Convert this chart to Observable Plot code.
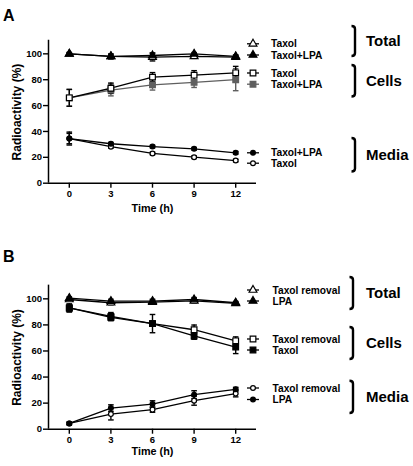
<!DOCTYPE html>
<html>
<head>
<meta charset="utf-8">
<script src="https://cdn.jsdelivr.net/npm/d3@7"></script>
<script src="https://cdn.jsdelivr.net/npm/@observablehq/plot@0.6"></script>
<style>
  html, body { margin: 0; padding: 0; background: #fff; }
  svg { display: block; }
</style>
</head>
<body>
<div id="chart"></div>
<script>
// ---------- data ----------
const times = [0, 3, 6, 9, 12];
const xTicks = [0, 3, 6, 9, 12];
const yTicks = [0, 20, 40, 60, 80, 100];

// Panel A
const aTotalTaxol       = [100, 98, 97.5, 98, 97.5];
const aTotalTaxolErr    = [1, 2, 3, 1.5, 1.5];
const aTotalTaxolLPA    = [100, 98, 98.7, 100, 98];
const aTotalTaxolLPAErr = [1, 1.5, 2, 1, 1];
const aCellsTaxol       = [66, 73.4, 82, 83.5, 85.3];
const aCellsTaxolErr    = [6.5, 4, 3.5, 3.5, 5];
const aCellsTaxolLPA    = [66, 72, 76, 78, 80];
const aCellsTaxolLPAErr = [6.5, 4.5, 4, 4, 8.5];
const aMediaTaxolLPA    = [34.5, 30.5, 28.3, 26.6, 23.5];
const aMediaTaxolLPAErr = [5, 1, 1, 1, 1];
const aMediaTaxol       = [34.5, 28.2, 23, 20.1, 17.5];
const aMediaTaxolErr    = [4, 1, 1, 1, 1];

// Panel B
const bTotalRemoval     = [99.5, 97, 97.5, 98.5, 96.5];
const bTotalRemovalErr  = [1, 1.5, 1.5, 1.5, 1];
const bTotalLPA         = [100.5, 98.2, 98.2, 99.5, 97];
const bTotalLPAErr      = [1, 1.5, 1.5, 1.5, 1];
const bCellsRemoval     = [93, 86.5, 81, 76.3, 67.8];
const bCellsRemovalErr  = [3, 3, 7, 3.6, 3];
const bCellsTaxol       = [93, 85.7, 81, 71.5, 63];
const bCellsTaxolErr    = [3, 2.5, 2, 2.5, 5];
const bMediaRemoval     = [4.4, 11.6, 15, 21.9, 27.3];
const bMediaRemovalErr  = [1, 4.5, 2, 3.5, 2.5];
const bMediaLPA         = [4.4, 16.2, 19.3, 26.5, 30.6];
const bMediaLPAErr      = [1, 2.5, 2.5, 3, 1.5];

// legend / group labels
const aLegendLabels = ["Taxol", "Taxol+LPA", "Taxol", "Taxol+LPA", "Taxol+LPA", "Taxol"];
const bLegendLabels = ["Taxol removal", "LPA", "Taxol removal", "Taxol", "Taxol removal", "LPA"];
const groupLabels = ["Total", "Cells", "Media"];

// ---------- styles ----------
const FONT = "'Liberation Sans', Arial, Helvetica, sans-serif";
const GRAY = "#5f5f5f";
const styleOf = {
  openTri:   {symbol: "triangle", fill: "white", stroke: "black", r: 2.9},
  fillTri:   {symbol: "triangle", fill: "black", stroke: "black", r: 2.9},
  openSq:    {symbol: "square",   fill: "white", stroke: "black", r: 3.2},
  graySq:    {symbol: "square",   fill: GRAY,    stroke: GRAY,    r: 3.2},
  fillSq:    {symbol: "square",   fill: "black", stroke: "black", r: 3.2},
  openCirc:  {symbol: "circle",   fill: "white", stroke: "black", r: 2.4},
  fillCirc:  {symbol: "circle",   fill: "black", stroke: "black", r: 2.4}
};

const capSymbol = {
  draw(context, size) {
    const w = Math.sqrt(size / Math.PI);
    context.moveTo(-w, 0);
    context.lineTo(w, 0);
  }
};

function rows(ys, errs) {
  return times.map((t, i) => ({x: t, y: ys[i], e: errs[i]}));
}

function seriesMarks(ys, errs, st) {
  const data = rows(ys, errs);
  const c = st.stroke;
  return [
    Plot.ruleX(data, {x: "x", y1: d => d.y - d.e, y2: d => d.y + d.e, stroke: c, strokeWidth: 1.4}),
    Plot.dot(data, {x: "x", y: d => d.y - d.e, symbol: capSymbol, r: 2.8, stroke: c, fill: "none", strokeWidth: 1.4}),
    Plot.dot(data, {x: "x", y: d => d.y + d.e, symbol: capSymbol, r: 2.8, stroke: c, fill: "none", strokeWidth: 1.4}),
    Plot.line(data, {x: "x", y: "y", stroke: c, strokeWidth: 1.3})
  ];
}
function dotMarks(ys, errs, st) {
  const data = rows(ys, errs);
  return [Plot.dot(data, {x: "x", y: "y", symbol: st.symbol, r: st.r, fill: st.fill, stroke: st.stroke, strokeWidth: 1.2})];
}

function symbolPath(st) {
  const type = st.symbol === "triangle" ? d3.symbolTriangle : st.symbol === "square" ? d3.symbolSquare : d3.symbolCircle;
  return d3.symbol(type, st.r * st.r * Math.PI)();
}

function makePanel(p) {
  const marks = [];
  p.series.forEach(s => marks.push(...seriesMarks(s.ys, s.errs, s.st)));
  p.series.forEach(s => marks.push(...dotMarks(s.ys, s.errs, s.st)));
  marks.push(
    Plot.ruleY([0], {stroke: "black", strokeWidth: 1.5}),
    Plot.ruleX([-1.5], {y1: 0, y2: 110.5, stroke: "black", strokeWidth: 1.5}),
    Plot.axisY({ticks: yTicks, tickSize: 5, tickPadding: 1.5, fontSize: 9.5, fontWeight: "bold", strokeWidth: 1.4, label: null}),
    Plot.axisX({ticks: xTicks, tickSize: 5, tickPadding: 2, fontSize: 9.5, fontWeight: "bold", strokeWidth: 1.4, label: null}),
    Plot.text(["Time (h)"], {frameAnchor: "bottom", dy: p.xTitleDy, fontSize: 10.8, fontWeight: "bold", fill: "black", textAnchor: "middle"}),
    Plot.text(["Radioactivity (%)"], {frameAnchor: "left", dx: -31, rotate: -90, fontSize: 12, fontWeight: "bold", fill: "black", textAnchor: "middle"})
  );
  const chart = Plot.plot({
    width: 413,
    height: 233,
    marginLeft: 48,
    marginRight: 157,
    marginTop: p.marginTop,
    marginBottom: p.marginBottom,
    x: {domain: [-1.5, 13.5]},
    y: {domain: [0, 110]},
    style: {fontFamily: FONT, fontSize: "9.5px", fontWeight: "bold", color: "black", background: "white", overflow: "visible"},
    marks
  });

  const svg = d3.select(chart);
  const g = svg.append("g").attr("font-family", FONT).attr("font-weight", "bold").attr("text-anchor", "start");
  // panel letter
  g.append("text").attr("x", 3).attr("y", p.letterY).attr("font-size", 16).text(p.letter);
  // legend
  p.legend.forEach((it, i) => {
    const y = it.y;
    g.append("line").attr("x1", 247).attr("x2", 259).attr("y1", y).attr("y2", y)
      .attr("stroke", it.st.stroke).attr("stroke-width", 1.3);
    g.append("path").attr("d", symbolPath(it.st)).attr("transform", `translate(253,${y})`)
      .attr("fill", it.st.fill).attr("stroke", it.st.stroke).attr("stroke-width", 1.2);
    g.append("text").attr("x", p.legendTextX).attr("y", y).attr("dy", "0.36em")
      .attr("font-size", 10.2).text(it.label);
  });
  // brackets
  p.brackets.forEach(b => {
    const x = b.x;
    g.append("path")
      .attr("d", `M${x - 3.5},${b.top} Q${x},${b.top} ${x},${b.top + 3} V${b.bottom - 3} Q${x},${b.bottom} ${x - 3.5},${b.bottom}`)
      .attr("fill", "none").attr("stroke", "black").attr("stroke-width", 2.4);
    g.append("text").attr("x", 366).attr("y", (b.top + b.bottom) / 2).attr("dy", "0.36em")
      .attr("font-size", 15).text(b.label);
  });
  return chart;
}

const panelA = makePanel({
  letter: "A", letterY: 21,
  marginTop: 40.4, marginBottom: 50.3, xTitleDy: 28.5,
  series: [
    {ys: aCellsTaxolLPA, errs: aCellsTaxolLPAErr, st: styleOf.graySq},
    {ys: aCellsTaxol, errs: aCellsTaxolErr, st: styleOf.openSq},
    {ys: aTotalTaxol, errs: aTotalTaxolErr, st: styleOf.openTri},
    {ys: aTotalTaxolLPA, errs: aTotalTaxolLPAErr, st: styleOf.fillTri},
    {ys: aMediaTaxol, errs: aMediaTaxolErr, st: styleOf.openCirc},
    {ys: aMediaTaxolLPA, errs: aMediaTaxolLPAErr, st: styleOf.fillCirc}
  ],
  legendTextX: 271,
  legend: [
    {label: aLegendLabels[0], y: 43.8, st: styleOf.openTri},
    {label: aLegendLabels[1], y: 55, st: styleOf.fillTri},
    {label: aLegendLabels[2], y: 73, st: styleOf.openSq},
    {label: aLegendLabels[3], y: 84.2, st: styleOf.graySq},
    {label: aLegendLabels[4], y: 152.8, st: styleOf.fillCirc},
    {label: aLegendLabels[5], y: 163.2, st: styleOf.openCirc}
  ],
  brackets: [
    {label: groupLabels[0], x: 355, top: 26, bottom: 56},
    {label: groupLabels[1], x: 355, top: 65, bottom: 96.5},
    {label: groupLabels[2], x: 355, top: 138, bottom: 171.5}
  ]
});

const panelB = makePanel({
  letter: "B", letterY: 29,
  marginTop: 52.3, marginBottom: 37.3, xTitleDy: 25.5,
  series: [
    {ys: bCellsRemoval, errs: bCellsRemovalErr, st: styleOf.openSq},
    {ys: bCellsTaxol, errs: bCellsTaxolErr, st: styleOf.fillSq},
    {ys: bTotalRemoval, errs: bTotalRemovalErr, st: styleOf.openTri},
    {ys: bTotalLPA, errs: bTotalLPAErr, st: styleOf.fillTri},
    {ys: bMediaRemoval, errs: bMediaRemovalErr, st: styleOf.openCirc},
    {ys: bMediaLPA, errs: bMediaLPAErr, st: styleOf.fillCirc}
  ],
  legendTextX: 272.5,
  legend: [
    {label: bLegendLabels[0], y: 290 - 233, st: styleOf.openTri},
    {label: bLegendLabels[1], y: 301 - 233, st: styleOf.fillTri},
    {label: bLegendLabels[2], y: 339 - 233, st: styleOf.openSq},
    {label: bLegendLabels[3], y: 350 - 233, st: styleOf.fillSq},
    {label: bLegendLabels[4], y: 388 - 233, st: styleOf.openCirc},
    {label: bLegendLabels[5], y: 399.5 - 233, st: styleOf.fillCirc}
  ],
  brackets: [
    {label: groupLabels[0], x: 353, top: 277 - 233, bottom: 309 - 233},
    {label: groupLabels[1], x: 353, top: 327 - 233, bottom: 359 - 233},
    {label: groupLabels[2], x: 353, top: 380.7 - 233, bottom: 413 - 233}
  ]
});

const root = document.getElementById("chart");
root.appendChild(panelA);
root.appendChild(panelB);
</script>
</body>
</html>
